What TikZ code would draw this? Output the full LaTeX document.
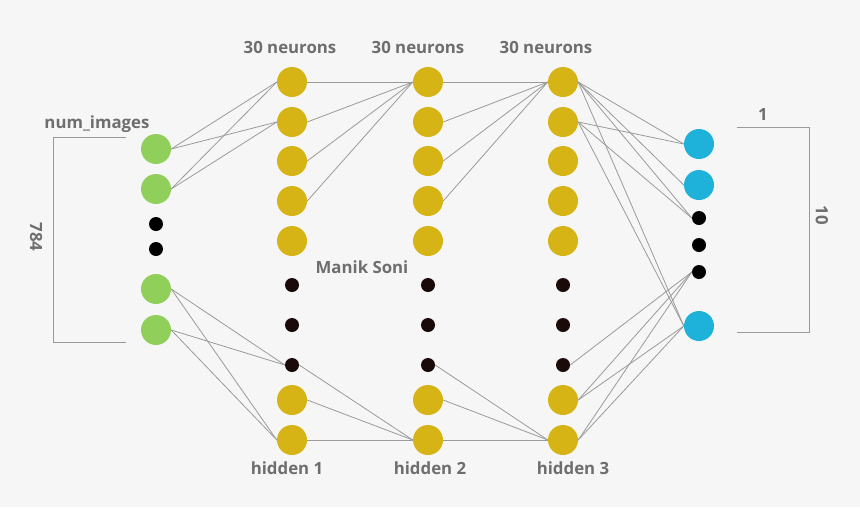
\documentclass[tikz,border=0pt]{standalone}
\usepackage{fontspec}
\setmainfont{Open Sans}
\definecolor{bg}{HTML}{F6F6F6}
\definecolor{gr}{HTML}{8FCF5A}
\definecolor{yl}{HTML}{D6B416}
\definecolor{bl}{HTML}{1EB1D9}
\definecolor{dk}{HTML}{1A0A0A}
\definecolor{txt}{HTML}{6E6E6E}
\definecolor{ln}{HTML}{9A9A9A}
\tikzset{
  big/.style={circle, minimum size=30pt, inner sep=0pt},
  gnode/.style={big, fill=gr},
  ynode/.style={big, fill=yl},
  bnode/.style={big, fill=bl},
  dotnode/.style={circle, minimum size=14pt, inner sep=0pt, fill=dk},
  bdotnode/.style={circle, minimum size=14pt, inner sep=0pt, fill=black},
  lbl/.style={font=\bfseries\fontsize{16.8}{20}\selectfont, text=txt, inner sep=0pt},
  conn/.style={draw=ln, line width=0.8pt},
  brk/.style={draw=ln, line width=1pt}
}
\begin{document}
\begin{tikzpicture}[x=1pt,y=-1pt]
\fill[bg] (0,0) rectangle (860,507);
\useasboundingbox (0,0) rectangle (860,507);
% input layer
\node[gnode] (in1) at (156,149) {};
\node[gnode] (in2) at (156,189) {};
\node[bdotnode] (in3) at (156,224) {};
\node[bdotnode] (in4) at (156,249) {};
\node[gnode] (in5) at (156,289) {};
\node[gnode] (in6) at (156,330) {};
% hidden layers
\foreach \L/\X in {a/292,b/428,c/563}{
  \foreach \i/\Y in {1/82,2/122,3/161,4/201,5/241}{
    \node[ynode] (\L\i) at (\X,\Y) {};
  }
  \foreach \i/\Y in {6/285,7/325,8/365}{
    \node[dotnode] (\L\i) at (\X,\Y) {};
  }
  \foreach \i/\Y in {9/400,10/440}{
    \node[ynode] (\L\i) at (\X,\Y) {};
  }
}
% output layer
\node[bnode] (o1) at (699,144) {};
\node[bnode] (o2) at (699,185) {};
\node[bdotnode] (o3) at (699,218) {};
\node[bdotnode] (o4) at (699,245) {};
\node[bdotnode] (o5) at (699,272) {};
\node[bnode] (o6) at (699,326) {};
% connections input -> hidden 1
\foreach \s/\t in {in1/a1,in1/a2,in2/a1,in2/a2,in5/a8,in5/a10,in6/a8,in6/a10}{
  \draw[conn] (\s.east) -- (\t.west);
}
% hidden 1 -> hidden 2, hidden 2 -> hidden 3
\foreach \p/\q in {a/b,b/c}{
  \foreach \i in {1,2,3,4}{
    \draw[conn] (\p\i.east) -- (\q1.west);
  }
  \foreach \i in {8,9,10}{
    \draw[conn] (\p\i.east) -- (\q10.west);
  }
}
% hidden 3 -> output
\foreach \s/\t in {c1/o1,c1/o2,c1/o3,c1/o6,c2/o1,c2/o3,c2/o6,c8/o5,c9/o5,c10/o5,c9/o6,c10/o6}{
  \draw[conn] (\s.east) -- (\t.west);
}
% brackets
\coordinate (lb1) at (126,137);
\coordinate (lb2) at (53,137);
\coordinate (lb3) at (53,342);
\coordinate (lb4) at (126,342);
\draw[brk] (lb1) -- (lb2) -- (lb3) -- (lb4);
\coordinate (rb1) at (737,127);
\coordinate (rb2) at (809,127);
\coordinate (rb3) at (809,332);
\coordinate (rb4) at (737,332);
\draw[brk] (rb1) -- (rb2) -- (rb3) -- (rb4);
% labels
\node[lbl] (t1) at (290,47) {30 neurons};
\node[lbl] (t2) at (418,47) {30 neurons};
\node[lbl] (t3) at (546,47) {30 neurons};
\node[lbl] (tin) at (97,124) {num\_images};
\node[lbl] (h1) at (287,468) {hidden 1};
\node[lbl] (h2) at (430,468) {hidden 2};
\node[lbl] (h3) at (573,468) {hidden 3};
\node[lbl] (ms) at (362,267) {Manik Soni};
\node[lbl, rotate=-90] (n784) at (36,237) {784};
\node[lbl, rotate=-90] (n10) at (822,215) {10};
\node[lbl] (n1) at (763,114) {1};
\end{tikzpicture}
\end{document}
